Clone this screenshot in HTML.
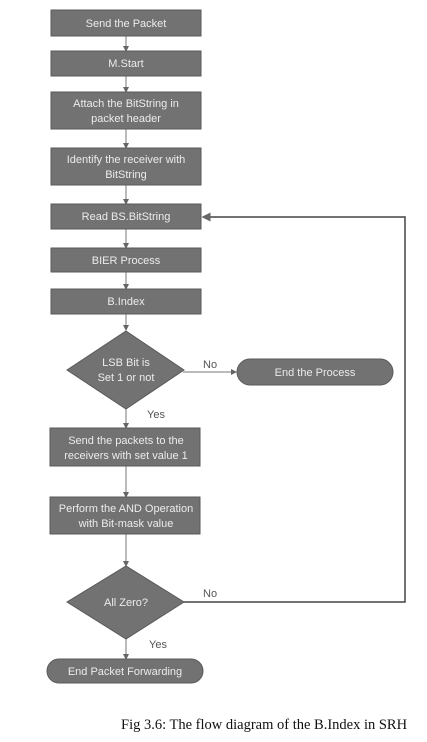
<!DOCTYPE html>
<html><head><meta charset="utf-8"><style>
html,body{margin:0;padding:0;background:#fff;}
svg{display:block}
.b{fill:#727272;stroke:#5a5a5a;stroke-width:1}
.t{font-family:"Liberation Sans",sans-serif;font-size:11px;fill:#ececec;text-anchor:middle}
.l{font-family:"Liberation Sans",sans-serif;font-size:11px;fill:#555}
.c{stroke:#777;stroke-width:1;fill:none}
</style></head><body>
<svg width="427" height="742" viewBox="0 0 427 742">
<defs><marker id="a" markerWidth="6" markerHeight="6" refX="5" refY="3" orient="auto"><path d="M0,0 L6,3 L0,6z" fill="#666"/></marker></defs>
<!-- connectors -->
<g class="c" marker-end="url(#a)">
<line x1="126" y1="36" x2="126" y2="51"/>
<line x1="126" y1="76" x2="126" y2="92"/>
<line x1="126" y1="129" x2="126" y2="148"/>
<line x1="126" y1="185" x2="126" y2="204"/>
<line x1="126" y1="229" x2="126" y2="248"/>
<line x1="126" y1="272" x2="126" y2="289"/>
<line x1="126" y1="314" x2="126" y2="330"/>
<line x1="183" y1="372" x2="236" y2="372"/>
<line x1="126" y1="409" x2="126" y2="428"/>
<line x1="126" y1="466" x2="126" y2="497"/>
<line x1="126" y1="534" x2="126" y2="566"/>
<line x1="126" y1="639" x2="126" y2="659"/>
</g>
<polyline points="183,602 405,602 405,217 203,217" style="stroke:#444;stroke-width:1.5;fill:none" marker-end="url(#a)"/>
<!-- boxes -->
<rect class="b" x="51" y="10" width="150" height="26"/>
<text class="t" x="126" y="27">Send the Packet</text>
<rect class="b" x="51" y="51" width="150" height="25"/>
<text class="t" x="126" y="67">M.Start</text>
<rect class="b" x="51" y="92" width="150" height="37"/>
<text class="t" x="126" y="107">Attach the BitString in</text>
<text class="t" x="126" y="122">packet header</text>
<rect class="b" x="51" y="148" width="150" height="37"/>
<text class="t" x="126" y="163">Identify the receiver with</text>
<text class="t" x="126" y="178">BitString</text>
<rect class="b" x="51" y="204" width="150" height="25"/>
<text class="t" x="126" y="220">Read BS.BitString</text>
<rect class="b" x="51" y="248" width="150" height="24"/>
<text class="t" x="126" y="264">BIER Process</text>
<rect class="b" x="51" y="289" width="150" height="25"/>
<text class="t" x="126" y="305">B.Index</text>
<polygon class="b" points="126,331 184,370 126,409 67,370"/>
<text class="t" x="126" y="366">LSB Bit is</text>
<text class="t" x="126" y="381">Set 1 or not</text>
<text class="l" x="203" y="368">No</text>
<rect class="b" x="237" y="359" width="156" height="26" rx="13"/>
<text class="t" x="315" y="376">End the Process</text>
<text class="l" x="147" y="418">Yes</text>
<rect class="b" x="50" y="428" width="150" height="38"/>
<text class="t" x="126" y="444">Send the packets to the</text>
<text class="t" x="126" y="459">receivers with set value 1</text>
<rect class="b" x="50" y="497" width="150" height="37"/>
<text class="t" x="126" y="512">Perform the AND Operation</text>
<text class="t" x="126" y="527">with Bit-mask value</text>
<polygon class="b" points="126,566 184,602 126,639 67,602"/>
<text class="t" x="126" y="606">All Zero?</text>
<text class="l" x="203" y="597">No</text>
<text class="l" x="149" y="648">Yes</text>
<rect class="b" x="47" y="659" width="156" height="24" rx="12"/>
<text class="t" x="125" y="675">End Packet Forwarding</text>
<text x="121" y="729" style="font-family:'Liberation Serif',serif;font-size:14.5px;fill:#111">Fig 3.6: The flow diagram of the B.Index in SRH</text>
</svg>
</body></html>
